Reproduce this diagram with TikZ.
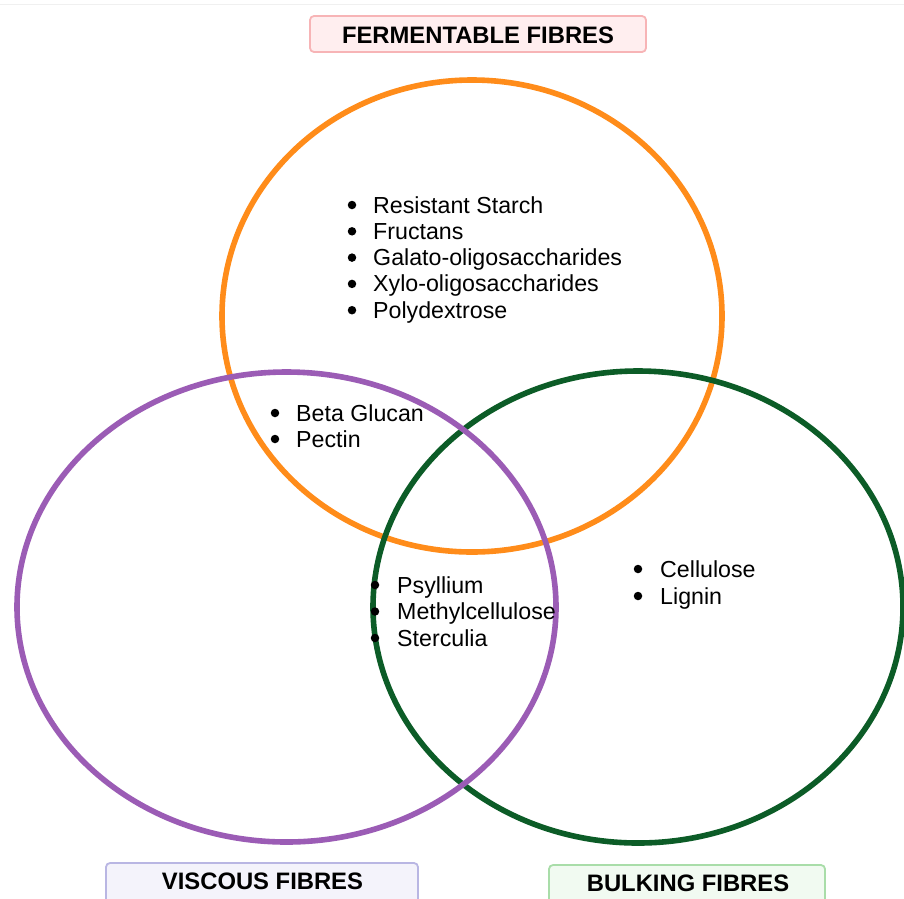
\documentclass[tikz,border=0pt]{standalone}
\usepackage{fontspec}
\setmainfont{Liberation Sans}
\definecolor{ferm}{HTML}{FF8C1A}
\definecolor{visc}{HTML}{9B5CB5}
\definecolor{bulk}{HTML}{0C5C27}
\definecolor{fermfill}{HTML}{FFEEEF}
\definecolor{fermline}{HTML}{F7B4B6}
\definecolor{viscfill}{HTML}{F4F3FB}
\definecolor{viscline}{HTML}{B9B6E3}
\definecolor{bulkfill}{HTML}{F1FAF1}
\definecolor{bulkline}{HTML}{A9DDA9}
\begin{document}
\begin{tikzpicture}[x=1pt,y=-1pt,
  ring/.style={line width=5.6pt},
  title/.style={font=\fontsize{23.8}{28}\bfseries\selectfont, text=black},
  tbox/.style={rounded corners=4pt, line width=1.8pt},
  item/.style={font=\fontsize{23.2}{27}\selectfont, anchor=base west, inner sep=0pt},
  dot/.style={circle, fill=black, inner sep=0pt, minimum size=8.5pt}]
\useasboundingbox (0,0) rectangle (904,898);
\clip (0,0) rectangle (904,898);
\fill[white] (0,0) rectangle (904,898);
\draw[line width=1pt, black!6] (0,4) -- (904,4);
% circles
\draw[ring, ferm] (472,316) ellipse [x radius=250pt, y radius=236pt];
\draw[ring, bulk] (638,607) ellipse [x radius=265pt, y radius=236pt];
\draw[ring, visc] (286.5,607) ellipse [x radius=269.5pt, y radius=235pt];
% title boxes
\draw[tbox, draw=fermline, fill=fermfill] (310,16) rectangle (646,52);
\node[title, anchor=base] (tferm) at (478,43) {FERMENTABLE FIBRES};
\draw[tbox, draw=viscline, fill=viscfill] (106,863) rectangle (418,910);
\node[title, anchor=base] (tvisc) at (262.5,889) {VISCOUS FIBRES};
\draw[tbox, draw=bulkline, fill=bulkfill] (549,865) rectangle (825,910);
\node[title, anchor=base] (tbulk) at (688,891) {BULKING FIBRES};
% fermentable list
\node[item] (f1) at (373,213) {Resistant Starch};
\node[item] (f2) at (373,239.3) {Fructans};
\node[item] (f3) at (373,265.6) {Galato-oligosaccharides};
\node[item] (f4) at (373,291.9) {Xylo-oligosaccharides};
\node[item] (f5) at (373,318.2) {Polydextrose};
\foreach \n in {f1,f2,f3,f4,f5} \node[dot] (d\n) at ([xshift=-21pt,yshift=8pt]\n.base west) {};
% ferm + viscous
\node[item] (b1) at (296,421) {Beta Glucan};
\node[item] (b2) at (296,447) {Pectin};
\foreach \n in {b1,b2} \node[dot] (d\n) at ([xshift=-21pt,yshift=8pt]\n.base west) {};
% viscous + bulking
\node[item] (p1) at (397,593) {Psyllium};
\node[item] (p2) at (397,619.5) {Methylcellulose};
\node[item] (p3) at (397,646) {Sterculia};
\node[item] (c1) at (660,577) {Cellulose};
\node[item] (c2) at (660,604) {Lignin};
\foreach \n in {p1,p2,p3,c1,c2} \node[dot] (d\n) at ([xshift=-22pt,yshift=8pt]\n.base west) {};
\end{tikzpicture}
\end{document}
